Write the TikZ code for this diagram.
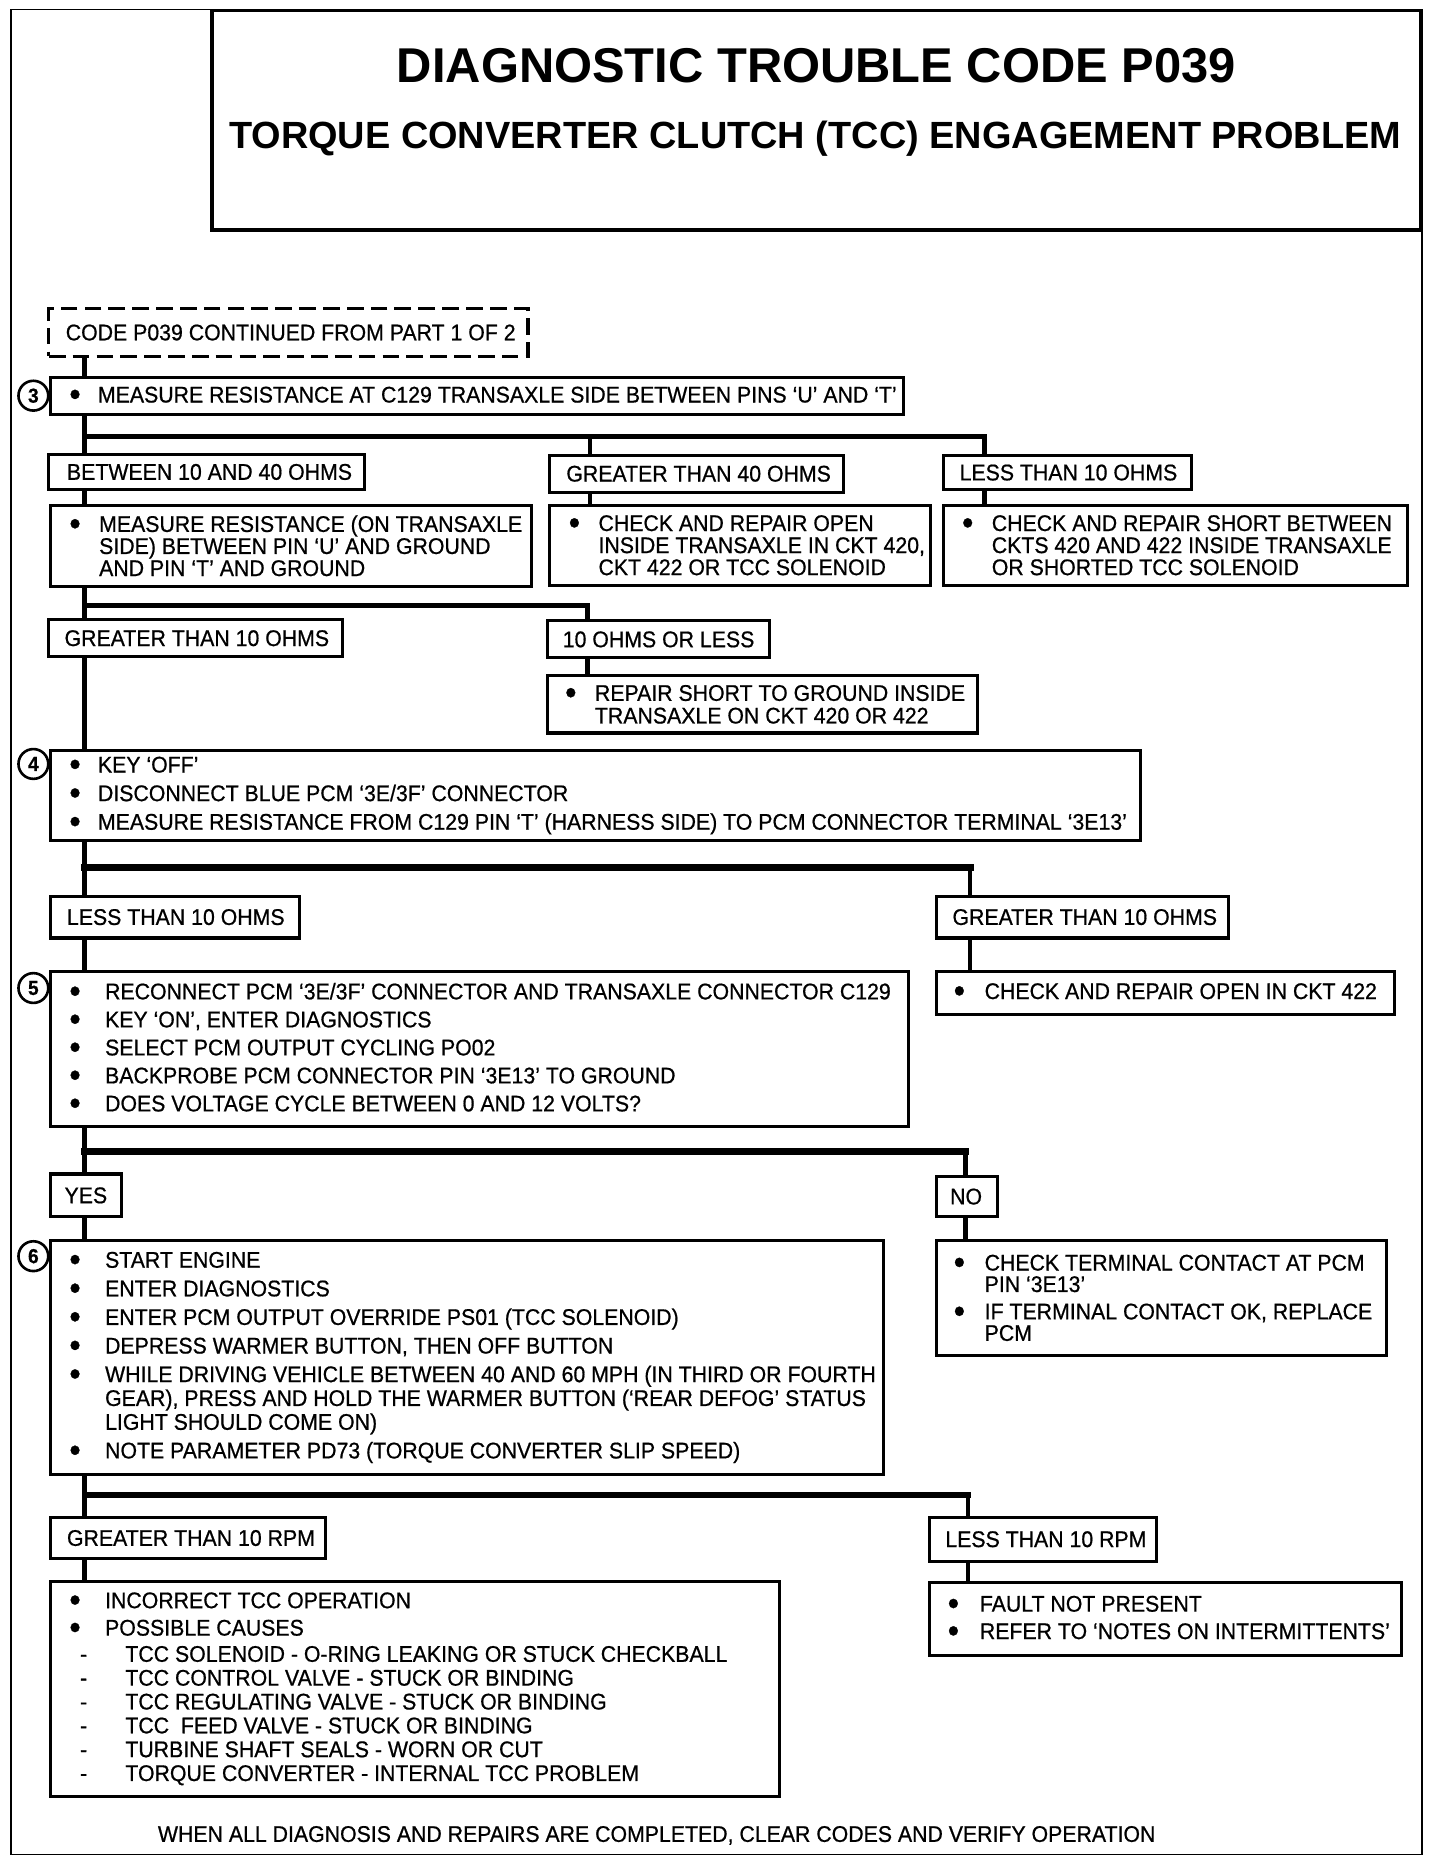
\documentclass[tikz,border=0pt]{standalone}
\usepackage{fontspec}
\setmainfont{Liberation Sans}[FakeStretch=0.94, FakeBold=0.7]
\newfontfamily\headfont{Liberation Sans}
\usetikzlibrary{positioning}

% bullet, continuation indent and dash for the lists
\newcommand{\bul}[1][25pt]{\makebox[#1][l]{\raisebox{-2.8pt}{\fontsize{29}{19}\selectfont\textbullet}}}
\newcommand{\ctd}[1][25pt]{\hspace*{#1}}
\newcommand{\dsh}{\hspace*{9pt}\makebox[38pt][l]{-}}

\begin{document}
\begin{tikzpicture}[x=1pt,y=-1pt,
  box/.style={draw, line width=2.6pt, anchor=north west, outer sep=0pt, inner sep=0pt},
  txt/.style={anchor=west, align=left, inner sep=0pt, font=\fontsize{19}{19}\selectfont},
  num/.style={draw, circle, line width=2.2pt, fill=white, inner sep=0pt,
    minimum size=25pt, font=\fontsize{17}{17}\selectfont\bfseries},
  trunk/.style={line width=4.5pt},
  bus/.style={line width=5pt, line cap=rect},
  wire/.style={line width=3.6pt}]
\useasboundingbox (0,0) rectangle (1208,1564);

% frame and heading
\draw[line width=1.6pt] (9,8) rectangle (1193,1556);
\node[box, line width=2.8pt, minimum width=1014pt, minimum height=184pt] (head) at (178,9) {};
\node[font=\headfont\fontsize{41}{41}\selectfont\bfseries] (title) at (685,55)
  {DIAGNOSTIC TROUBLE CODE P039};
\node[font=\headfont\fontsize{31.8}{32}\selectfont\bfseries] (subtitle) at (684,116)
  {TORQUE CONVERTER CLUTCH (TCC) ENGAGEMENT PROBLEM};

% step 3
\node[box, dash pattern=on 14pt off 6pt, minimum width=402pt, minimum height=40pt] (code) at (41,259) {};
\node[txt] (codet) at ([xshift=14pt]code.west) {CODE P039 CONTINUED FROM PART 1 OF 2};
\node[box, minimum width=716pt, minimum height=31pt] (s3) at (42,317) {};
\node[txt] (s3t) at ([xshift=16pt]s3.west)
  {\bul[24pt]MEASURE RESISTANCE AT C129 TRANSAXLE SIDE BETWEEN PINS `U' AND `T'};
\node[num] (n3) at (28,332) {3};
\node[box, minimum width=265pt, minimum height=30pt] (r1) at (41,381) {};
\node[txt] (r1t) at ([xshift=15pt]r1.west) {BETWEEN 10 AND 40 OHMS};
\node[box, minimum width=247pt, minimum height=31pt] (r2) at (461,382) {};
\node[txt] (r2t) at ([xshift=14pt]r2.west) {GREATER THAN 40 OHMS};
\node[box, minimum width=208pt, minimum height=29pt] (r3) at (792,382) {};
\node[txt] (r3t) at ([xshift=13pt]r3.west) {LESS THAN 10 OHMS};
\node[box, minimum width=404pt, minimum height=68pt] (m1) at (42,424) {};
\node[txt, font=\fontsize{19}{18.5}\selectfont] (m1t) at ([xshift=16pt]m1.west)
  {\bul MEASURE RESISTANCE (ON TRANSAXLE\\ \ctd SIDE) BETWEEN PIN `U' AND GROUND\\
   \ctd AND PIN `T' AND GROUND};
\node[box, minimum width=320pt, minimum height=67pt] (m2) at (461,424) {};
\node[txt, font=\fontsize{19}{18.5}\selectfont] (m2t) at ([xshift=16pt]m2.west)
  {\bul CHECK AND REPAIR OPEN\\ \ctd INSIDE TRANSAXLE IN CKT 420,\\ \ctd CKT 422 OR TCC SOLENOID};
\node[box, minimum width=389pt, minimum height=67pt] (m3) at (792,424) {};
\node[txt, font=\fontsize{19}{18.5}\selectfont] (m3t) at ([xshift=15pt]m3.west)
  {\bul CHECK AND REPAIR SHORT BETWEEN\\ \ctd CKTS 420 AND 422 INSIDE TRANSAXLE\\
   \ctd OR SHORTED TCC SOLENOID};
\node[box, minimum width=246pt, minimum height=31pt] (g1) at (41,520) {};
\node[txt] (g1t) at ([xshift=13pt]g1.west) {GREATER THAN 10 OHMS};
\node[box, minimum width=187pt, minimum height=31pt] (g2) at (459,521) {};
\node[txt] (g2t) at ([xshift=13pt]g2.west) {10 OHMS OR LESS};
\node[box, minimum width=361pt, minimum height=48pt] (g3) at (459,567) {};
\node[txt] (g3t) at ([xshift=15pt]g3.west)
  {\bul REPAIR SHORT TO GROUND INSIDE\\ \ctd TRANSAXLE ON CKT 420 OR 422};

% step 4
\node[box, minimum width=915pt, minimum height=75pt] (s4) at (42,630) {};
\node[txt] (s4t) at ([xshift=16pt]s4.west)
  {\bul[24pt]KEY `OFF'\\[5pt] \bul[24pt]DISCONNECT BLUE PCM `3E/3F' CONNECTOR\\[5pt]
   \bul[24pt]MEASURE RESISTANCE FROM C129 PIN `T' (HARNESS SIDE) TO PCM CONNECTOR TERMINAL `3E13'};
\node[num] (n4) at (28,641) {4};
\node[box, minimum width=209pt, minimum height=35pt] (h1) at (42,752) {};
\node[txt] (h1t) at ([xshift=14pt]h1.west) {LESS THAN 10 OHMS};
\node[box, minimum width=245pt, minimum height=35pt] (h2) at (786,752) {};
\node[txt] (h2t) at ([xshift=13pt]h2.west) {GREATER THAN 10 OHMS};

% step 5
\node[box, minimum width=720pt, minimum height=130pt] (s5) at (42,815) {};
\node[txt] (s5t) at ([xshift=16pt]s5.west)
  {\bul[30pt]RECONNECT PCM `3E/3F' CONNECTOR AND TRANSAXLE CONNECTOR C129\\[4.5pt]
   \bul[30pt]KEY `ON', ENTER DIAGNOSTICS\\[4.5pt]
   \bul[30pt]SELECT PCM OUTPUT CYCLING PO02\\[4.5pt]
   \bul[30pt]BACKPROBE PCM CONNECTOR PIN `3E13' TO GROUND\\[4.5pt]
   \bul[30pt]DOES VOLTAGE CYCLE BETWEEN 0 AND 12 VOLTS?};
\node[num] (n5) at (28,829) {5};
\node[box, minimum width=384pt, minimum height=36pt] (h3) at (786,815) {};
\node[txt] (h3t) at ([xshift=14pt]h3.west) {\bul[26pt]CHECK AND REPAIR OPEN IN CKT 422};
\node[box, minimum width=60pt, minimum height=36pt] (yes) at (42,985) {};
\node[txt] (yest) at ([xshift=12pt]yes.west) {YES};
\node[box, minimum width=51pt, minimum height=34pt] (no) at (786,987) {};
\node[txt] (not) at ([xshift=11pt]no.west) {NO};

% step 6
\node[box, minimum width=699pt, minimum height=196pt] (s6) at (42,1041) {};
\node[txt, font=\fontsize{19}{20}\selectfont] (s6t) at ([xshift=16pt]s6.west)
  {\bul[30pt]START ENGINE\\[4pt]
   \bul[30pt]ENTER DIAGNOSTICS\\[4pt]
   \bul[30pt]ENTER PCM OUTPUT OVERRIDE PS01 (TCC SOLENOID)\\[4pt]
   \bul[30pt]DEPRESS WARMER BUTTON, THEN OFF BUTTON\\[4pt]
   \bul[30pt]WHILE DRIVING VEHICLE BETWEEN 40 AND 60 MPH (IN THIRD OR FOURTH\\
   \ctd[30pt]GEAR), PRESS AND HOLD THE WARMER BUTTON (`REAR DEFOG' STATUS\\
   \ctd[30pt]LIGHT SHOULD COME ON)\\[4pt]
   \bul[30pt]NOTE PARAMETER PD73 (TORQUE CONVERTER SLIP SPEED)};
\node[num] (n6) at (28,1054) {6};
\node[box, minimum width=377pt, minimum height=96pt] (k) at (786,1041) {};
\node[txt, font=\fontsize{19}{18}\selectfont] (kt) at ([xshift=14pt]k.west)
  {\bul[26pt]CHECK TERMINAL CONTACT AT PCM\\ \ctd[26pt]PIN `3E13'\\[5pt]
   \bul[26pt]IF TERMINAL CONTACT OK, REPLACE\\ \ctd[26pt]PCM};
\node[box, minimum width=231pt, minimum height=35pt] (q1) at (42,1273) {};
\node[txt] (q1t) at ([xshift=14pt]q1.west) {GREATER THAN 10 RPM};
\node[box, minimum width=190pt, minimum height=37pt] (q2) at (780,1273) {};
\node[txt] (q2t) at ([xshift=13pt]q2.west) {LESS THAN 10 RPM};
\node[box, minimum width=612pt, minimum height=180pt] (s7) at (42,1327) {};
\node[txt, font=\fontsize{19}{20}\selectfont] (s7t) at ([xshift=16pt]s7.west)
  {\bul[30pt]INCORRECT TCC OPERATION\\[3pt]
   \bul[30pt]POSSIBLE CAUSES\\[2pt]
   \dsh TCC SOLENOID - O-RING LEAKING OR STUCK CHECKBALL\\
   \dsh TCC CONTROL VALVE - STUCK OR BINDING\\
   \dsh TCC REGULATING VALVE - STUCK OR BINDING\\
   \dsh TCC\ \ FEED VALVE - STUCK OR BINDING\\
   \dsh TURBINE SHAFT SEALS - WORN OR CUT\\
   \dsh TORQUE CONVERTER - INTERNAL TCC PROBLEM};
\node[box, minimum width=396pt, minimum height=61pt] (q3) at (780,1328) {};
\node[txt, font=\fontsize{19}{23}\selectfont] (q3t) at ([xshift=15pt]q3.west)
  {\bul[27pt]FAULT NOT PRESENT\\ \bul[27pt]REFER TO `NOTES ON INTERMITTENTS'};
\node[font=\fontsize{19}{19}\selectfont] (foot) at (551,1540)
  {WHEN ALL DIAGNOSIS AND REPAIRS ARE COMPLETED, CLEAR CODES AND VERIFY OPERATION};

% junctions and drop points
\coordinate (j1) at (71,366);
\coordinate (j2) at (71,508);
\coordinate (j3) at (71,728);
\coordinate (j4) at (71,966);
\coordinate (j5) at (71,1254);
\coordinate (r2w) at ([xshift=34pt]r2.north west);
\coordinate (r3w) at ([xshift=34pt]r3.north west);
\coordinate (g2w) at ([xshift=34pt]g2.north west);
\coordinate (h2w) at ([xshift=28pt]h2.north west);
\coordinate (now) at ([xshift=24pt]no.north west);
\coordinate (q2w) at ([xshift=32pt]q2.north west);

% main line
\draw[trunk] (code.south -| j1) -- (s3.north -| j1);
\draw[trunk] (s3.south -| j1) -- (r1.north -| j1);
\draw[trunk] (r1.south -| j1) -- (m1.north -| j1);
\draw[trunk] (m1.south -| j1) -- (g1.north -| j1);
\draw[trunk] (g1.south -| j1) -- (s4.north -| j1);
\draw[trunk] (s4.south -| j1) -- (h1.north -| j1);
\draw[trunk] (h1.south -| j1) -- (s5.north -| j1);
\draw[trunk] (s5.south -| j1) -- (yes.north -| j1);
\draw[trunk] (yes.south -| j1) -- (s6.north -| j1);
\draw[trunk] (s6.south -| j1) -- (q1.north -| j1);
\draw[trunk] (q1.south -| j1) -- (s7.north -| j1);

% branches
\draw[bus, line width=4pt] (j1) -- (j1 -| r3w);
\draw[wire] (j1 -| r2w) -- (r2w);
\draw[wire] (j1 -| r3w) -- (r3w);
\draw[wire] (r2.south -| r2w) -- (m2.north -| r2w);
\draw[wire] (r3.south -| r3w) -- (m3.north -| r3w);
\draw[bus, line width=4pt] (j2) -- (j2 -| g2w);
\draw[wire] (j2 -| g2w) -- (g2w);
\draw[wire] (g2.south -| g2w) -- (g3.north -| g2w);
\draw[bus, line width=6pt] (j3) -- (j3 -| h2w);
\draw[wire] (j3 -| h2w) -- (h2w);
\draw[wire] (h2.south -| h2w) -- (h3.north -| h2w);
\draw[bus, line width=6pt] (j4) -- (j4 -| now);
\draw[wire] (j4 -| now) -- (now);
\draw[wire] (no.south -| now) -- (k.north -| now);
\draw[bus] (j5) -- (j5 -| q2w);
\draw[wire] (j5 -| q2w) -- (q2w);
\draw[wire] (q2.south -| q2w) -- (q3.north -| q2w);
\end{tikzpicture}
\end{document}
